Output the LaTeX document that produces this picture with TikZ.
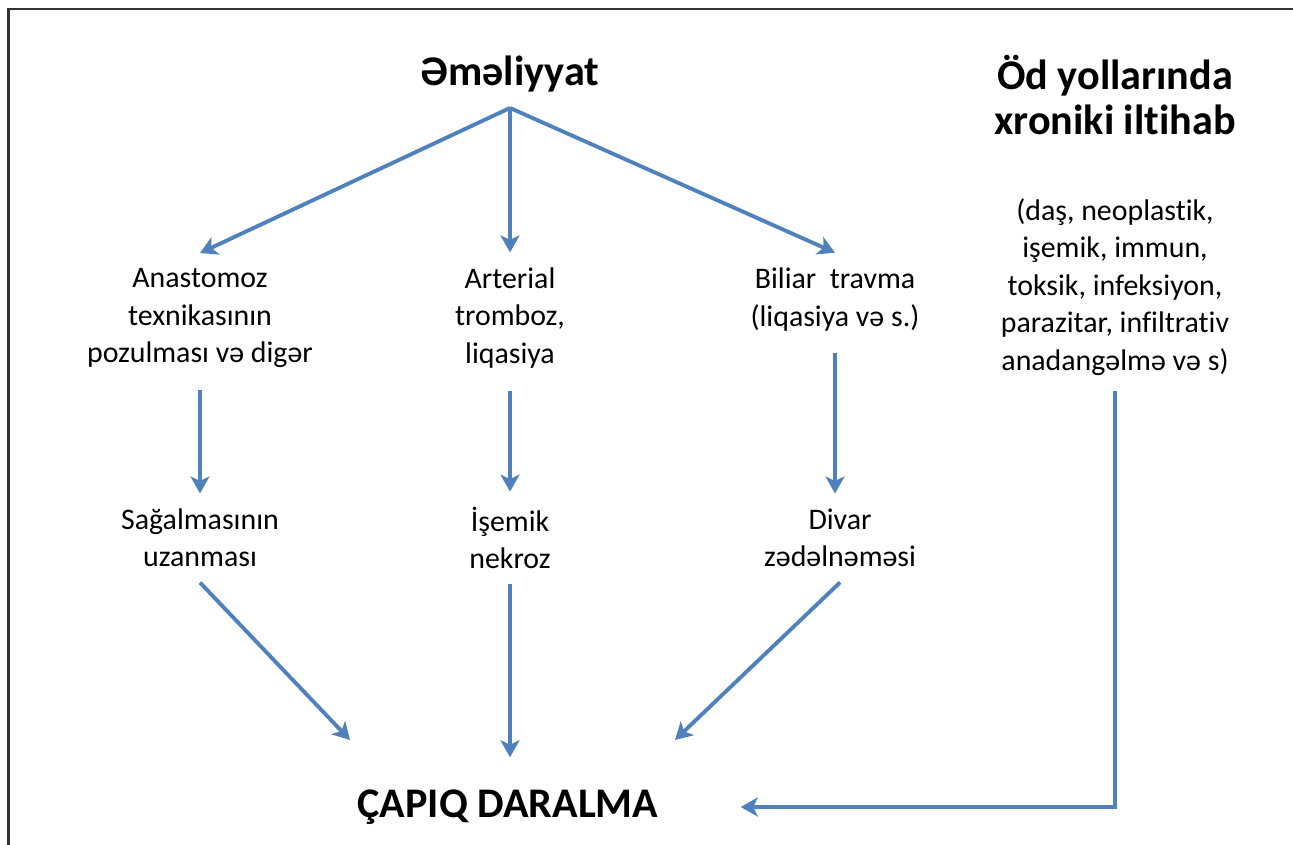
\documentclass[tikz,border=0pt]{standalone}
\usepackage{fontspec}
\setmainfont{Carlito}[Ligatures={NoCommon}]
\usetikzlibrary{arrows.meta}
\definecolor{arrowblue}{RGB}{79,129,189}
\begin{document}
\begin{tikzpicture}[
  txt/.style={align=center,inner xsep=0pt,inner ysep=0.3cm,font=\fontsize{17}{21.3}\selectfont},
  head/.style={align=center,inner xsep=0pt,inner ysep=0.3cm,font=\fontsize{24}{25.6}\selectfont\bfseries},
  arr/.style={draw=arrowblue,line width=2.2pt,-{Stealth[length=3.4mm,width=3.8mm,inset=0.9mm]}}
]
  \useasboundingbox (0,0) rectangle (25.86,-16.9);
  \draw[black!80,line width=1.2pt] (25.86,-0.18) -- (0.17,-0.18) -- (0.17,-16.9);

  \node[head] (op) at (10.2,-1.49) {Əməliyyat};
  \node[head] (od) at (22.3,-1.9) {Öd yollarında\\xroniki iltihab};
  \node[txt] (causes) at (22.3,-5.74) {(daş, neoplastik,\\işemik, immun,\\toksik, infeksiyon,\\parazitar, infiltrativ\\anadangəlmə və s)};

  \node[txt] (anast) at (4.0,-6.36) {Anastomoz\\texnikasının\\pozulması və digər};
  \node[txt] (arter) at (10.2,-6.36) {Arterial\\tromboz,\\liqasiya};
  \node[txt] (biliar) at (16.7,-5.99) {Biliar\ \ travma\\(liqasiya və s.)};

  \node[txt] (sagal) at (4.0,-10.76) {Sağalmasının\\uzanması};
  \node[txt] (isemik) at (10.2,-10.76) {İşemik\\nekroz};
  \node[txt] (divar) at (16.8,-10.76) {Divar\\zədəlnəməsi};

  \node[head,inner ysep=0.64cm] (capiq) at (10.16,-16.14) {ÇAPIQ DARALMA};
  \coordinate (tipL) at (7.0,-14.8);
  \coordinate (tipR) at (13.5,-14.8);

  \draw[arr] (op.south) -- (anast.north);
  \draw[arr] (op.south) -- (arter.north);
  \draw[arr] (op.south) -- (biliar.north);

  \draw[arr,shorten <=0.14cm] (anast.south) -- (anast.south |- sagal.north);
  \draw[arr,shorten <=0.14cm] (arter.south) -- (arter.south |- isemik.north);
  \draw[arr,shorten <=0.14cm] (biliar.south) -- (biliar.south |- divar.north);

  \draw[arr] (sagal.south) -- (tipL);
  \draw[arr] (isemik.south) -- (isemik.south |- capiq.north);
  \draw[arr] (divar.south) -- (tipR);
  \draw[arr,shorten >=1.64cm] (causes.south) |- (capiq.east);
\end{tikzpicture}
\end{document}
